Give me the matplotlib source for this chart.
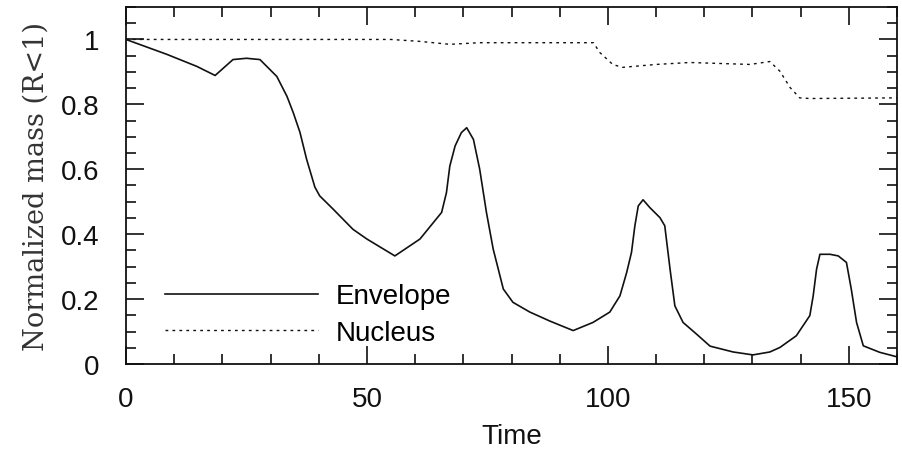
import numpy as np
import matplotlib
matplotlib.use("Agg")
import matplotlib.pyplot as plt
from matplotlib.ticker import MultipleLocator

# envelope mass inside R<1
env_t = [0, 8.5, 14.7, 18.5, 22.2, 25, 27.8, 31.3, 33.4, 34.7, 36.1, 37.5, 39.2, 40.2,
         43, 47.1, 50, 55.8, 61, 65.5, 66.5, 67.2, 68.3, 69.6, 70.7, 72.1, 73.4, 74.8,
         76.2, 78.3, 80.3, 83.8, 88, 92.8, 96.9, 100.4, 102.5, 103.9, 104.9, 105.6, 106.3,
         107.3, 108.7, 110.8, 111.8, 112.9, 113.9, 115.6, 118.4, 121.2, 126, 130.1, 133.6,
         135.7, 139.1, 141.9, 142.6, 143.3, 144, 146.1, 147.8, 149.5, 150.5, 151.6, 153,
         156.4, 160]
env_m = [1.0, 0.954, 0.917, 0.889, 0.938, 0.942, 0.938, 0.886, 0.825, 0.775, 0.714, 0.63,
         0.545, 0.518, 0.477, 0.415, 0.385, 0.333, 0.385, 0.467, 0.528, 0.61, 0.672, 0.713,
         0.728, 0.692, 0.6, 0.467, 0.354, 0.231, 0.19, 0.16, 0.132, 0.103, 0.128, 0.16,
         0.21, 0.282, 0.344, 0.426, 0.487, 0.506, 0.482, 0.451, 0.426, 0.292, 0.179, 0.128,
         0.092, 0.055, 0.037, 0.028, 0.037, 0.051, 0.087, 0.149, 0.21, 0.292, 0.338, 0.338,
         0.333, 0.313, 0.231, 0.128, 0.056, 0.036, 0.022]

# nucleus mass inside R<1
nuc_t = [0, 55, 61, 67.2, 73.4, 97, 98.3, 101, 103, 110, 117, 129.5, 133.6, 135.7, 137.8,
         139.8, 141.9, 160]
nuc_m = [1.0, 1.0, 0.994, 0.985, 0.99, 0.99, 0.96, 0.923, 0.914, 0.923, 0.929, 0.923,
         0.932, 0.902, 0.852, 0.82, 0.818, 0.82]

sans = ["Liberation Sans", "DejaVu Sans"]
ink = "#111111"

fig = plt.figure(figsize=(9.03, 4.52), dpi=100)
ax = fig.add_axes([0.1395, 0.1925, 0.9934 - 0.1395, 0.9823 - 0.1925])

ax.plot(env_t, env_m, color=ink, lw=1.2, label="Envelope")
ax.plot(nuc_t, nuc_m, color=ink, lw=1.0, linestyle=(0, (2, 3)), label="Nucleus")

ax.set_xlim(0, 160)
ax.set_ylim(0, 1.1)
ax.xaxis.set_major_locator(MultipleLocator(50))
ax.xaxis.set_minor_locator(MultipleLocator(10))
ax.yaxis.set_minor_locator(MultipleLocator(0.05))
ax.set_yticks([0, 0.2, 0.4, 0.6, 0.8, 1.0])
ax.set_yticklabels(["0", "0.2", "0.4", "0.6", "0.8", "1"])

ax.tick_params(which="both", direction="in", top=True, right=True, color=ink, width=1.2)
ax.tick_params(which="major", length=13)
ax.tick_params(which="minor", length=7)
ax.tick_params(axis="y", which="major", pad=19)
ax.tick_params(axis="x", which="major", pad=16)
for lab in ax.get_xticklabels() + ax.get_yticklabels():
    lab.set_family(sans)
    lab.set_fontsize(20)
    lab.set_color(ink)

for sp in ax.spines.values():
    sp.set_linewidth(1.3)
    sp.set_color(ink)

ax.set_xlabel("Time", family=sans, fontsize=20, color=ink, labelpad=8)
ax.set_ylabel("Normalized mass (R<1)", family=["DejaVu Serif"], fontsize=19.5,
              color="#333333", labelpad=8)

ax.legend(loc="upper left", bbox_to_anchor=(0.018, 0.296), frameon=False,
          prop={"family": sans, "size": 20}, handlelength=5.5, handletextpad=0.65,
          labelspacing=0.37)

fig.savefig("out.png", dpi=100)
